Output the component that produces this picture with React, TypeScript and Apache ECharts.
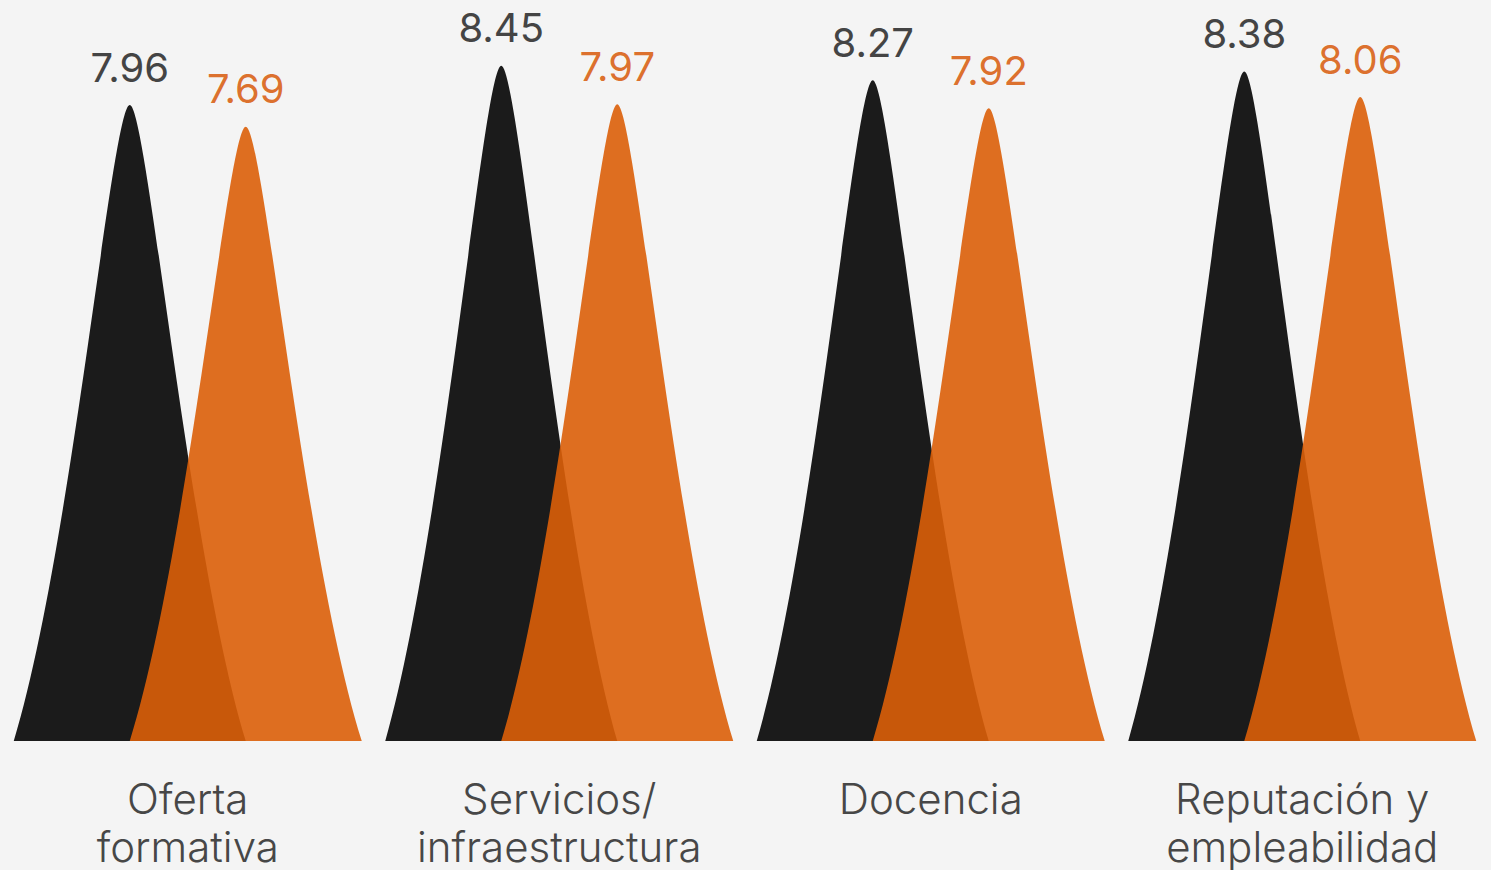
import React, { useEffect, useRef } from "react";
import * as echarts from "echarts";

const categories = ["Oferta\nformativa", "Servicios/\ninfraestructura", "Docencia", "Reputación y\nempleabilidad"];
const seriesBlack = [7.96, 8.45, 8.27, 8.38];
const seriesOrange = [7.69, 7.97, 7.92, 8.06];

const PEAK = "path://M0,100 C50,70 85,0 100,0 C115,0 150,70 200,100 Z";

const FONT = "Inter, 'Open Sans', sans-serif";

export default function App() {
  const ref = useRef<HTMLDivElement>(null);
  useEffect(() => {
    if (!ref.current) return;
    const chart = echarts.init(ref.current, null, { renderer: "svg" });
    chart.setOption({
      animation: false,
      backgroundColor: "#f4f4f4",
      grid: { left: 2, right: 3, top: 22, bottom: 128 },
      xAxis: {
        type: "category",
        data: categories,
        axisLine: { show: false },
        axisTick: { show: false },
        axisLabel: {
          color: "#474747",
          fontFamily: FONT,
          fontWeight: 300,
          fontSize: 42,
          lineHeight: 48,
          margin: 33,
        },
      },
      yAxis: {
        type: "value",
        min: 0,
        max: 9,
        show: false,
        splitLine: { show: false },
      },
      series: [
        {
          type: "pictorialBar",
          data: seriesBlack,
          symbol: PEAK,
          symbolSize: [232, "100%"],
          barWidth: 116,
          barGap: "0%",
          itemStyle: { color: "#1b1b1b" },
          label: {
            show: true,
            position: "top",
            distance: 18,
            color: "#444444",
            fontFamily: FONT,
            fontWeight: 400,
            fontSize: 40,
            formatter: (p: any) => p.value.toFixed(2),
          },
          z: 2,
        },
        {
          type: "pictorialBar",
          data: seriesOrange,
          symbol: PEAK,
          symbolSize: [232, "100%"],
          barWidth: 116,
          barGap: "0%",
          itemStyle: { color: "rgb(219,95,9)", opacity: 0.9 },
          label: {
            show: true,
            position: "top",
            distance: 18,
            color: "#d95f12",
            fontFamily: FONT,
            fontWeight: 400,
            fontSize: 40,
            formatter: (p: any) => p.value.toFixed(2),
          },
          z: 3,
        },
      ],
    });
    return () => chart.dispose();
  }, []);
  return (
    <div
      ref={ref}
      style={{ position: "fixed", left: 0, top: 0, width: 1491, height: 870 }}
    />
  );
}
